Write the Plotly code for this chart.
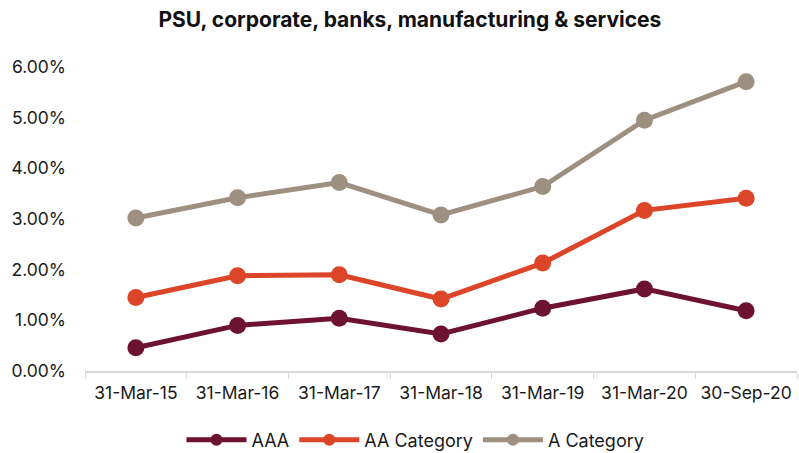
import plotly.graph_objects as go

dates = ["31-Mar-15", "31-Mar-16", "31-Mar-17", "31-Mar-18", "31-Mar-19", "31-Mar-20", "30-Sep-20"]
aaa = [0.46, 0.90, 1.04, 0.73, 1.24, 1.62, 1.19]
aa_category = [1.45, 1.88, 1.90, 1.42, 2.13, 3.17, 3.41]
a_category = [3.02, 3.42, 3.72, 3.08, 3.64, 4.95, 5.71]
y_ticks = [0, 1, 2, 3, 4, 5, 6]

series = [
    ("AAA", aaa, "#6d1230"),
    ("AA Category", aa_category, "#dc4528"),
    ("A Category", a_category, "#9d9080"),
]

fig = go.Figure()
for name, vals, color in series:
    fig.add_trace(go.Scatter(
        x=dates, y=[v / 100 for v in vals], name=name, mode="lines+markers",
        line=dict(color=color, width=5),
        marker=dict(color=color, size=17),
        showlegend=False,
    ))
# legend entries with a smaller marker than the plotted points
for name, vals, color in series:
    fig.add_trace(go.Scatter(
        x=[None], y=[None], name=name, mode="lines+markers",
        line=dict(color=color, width=5),
        marker=dict(color=color, size=12),
        showlegend=True,
    ))

fig.update_layout(
    width=799, height=453,
    margin=dict(l=85, r=2, t=67, b=82),
    paper_bgcolor="white", plot_bgcolor="white",
    font=dict(family="Inter, sans-serif", size=17, color="#1a1a1a"),
    title=dict(text="<b>PSU, corporate, banks, manufacturing & services</b>",
               x=0.513, xref="container", xanchor="center",
               y=1 - 20 / 453, yref="container", yanchor="middle",
               font=dict(size=21, color="#111111")),
    showlegend=True,
    legend=dict(orientation="h", xref="container", yref="container",
                x=0.52, xanchor="center", y=1 - 440 / 453, yanchor="middle",
                font=dict(size=18), itemwidth=60, tracegroupgap=0),
    xaxis=dict(showgrid=False, showline=True, linecolor="#d9d9d9", linewidth=1.5,
               ticks="outside", tickson="boundaries", ticklen=6, tickcolor="#d9d9d9",
               range=[-0.5, 6.5], tickfont=dict(size=17.5), ticklabelstandoff=5),
    yaxis=dict(showgrid=False, zeroline=False, range=[0, 0.06],
               tickvals=[v / 100 for v in y_ticks], tickformat=".2%",
               ticks="", ticklabelstandoff=18, tickfont=dict(size=17.5)),
)

fig.write_html("out.html")
